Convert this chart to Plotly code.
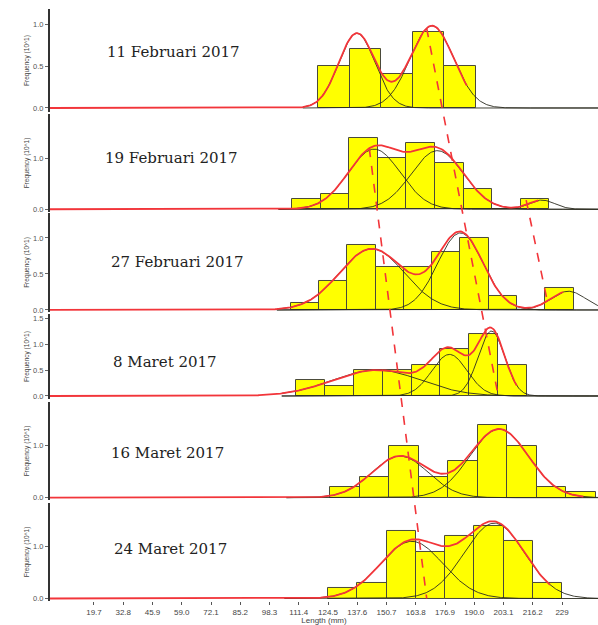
import numpy as np
import plotly.graph_objects as go

BIN_WIDTH = 13.1

panel_titles = ["11 Februari 2017", "19 Februari 2017", "27 Februari 2017",
                "8 Maret 2017", "16 Maret 2017", "24 Maret 2017"]

# lower limit (mm) of the first length class in each sample
bin_start = [111.4, 111.4, 111.4, 111.4, 124.5, 124.5]

# frequencies (x10) per length class
freq_11feb = [0.5, 0.7, 0.4, 0.9, 0.5]
freq_19feb = [0.2, 0.3, 1.4, 1.0, 1.3, 0.9, 0.4, 0.0, 0.2]
freq_27feb = [0.1, 0.4, 0.9, 0.6, 0.6, 0.8, 1.0, 0.2, 0.0, 0.3]
freq_8mar = [0.3, 0.2, 0.5, 0.5, 0.6, 0.9, 1.2, 0.6]
freq_16mar = [0.2, 0.4, 1.0, 0.4, 0.7, 1.4, 1.0, 0.2, 0.1]
freq_24mar = [0.2, 0.3, 1.3, 0.9, 1.2, 1.4, 1.1, 0.3]
freqs = [freq_11feb, freq_19feb, freq_27feb, freq_8mar, freq_16mar, freq_24mar]

# normal components: (mean length mm, sd mm, peak frequency)
comp_11feb = [(127.5, 7.5, 0.89), (158.7, 9.0, 0.98)]
comp_19feb = [(149.0, 12.0, 1.18), (178.0, 12.0, 1.15), (226.0, 6.0, 0.18)]
comp_27feb = [(149.0, 15.0, 0.85), (190.0, 10.5, 1.07), (240.0, 8.0, 0.26)]
comp_8mar = [(148.0, 20.0, 0.50), (181.0, 8.0, 0.80), (200.0, 6.0, 1.25)]
comp_16mar = [(155.5, 12.5, 0.80), (199.5, 13.0, 1.32)]
comp_24mar = [(162.0, 14.0, 1.10), (199.0, 13.5, 1.45)]
comps = [comp_11feb, comp_19feb, comp_27feb, comp_8mar, comp_16mar, comp_24mar]

# last length (mm) of the fitted total curve
fit_end = [173.2, 224.4, 237.6, 211.5, 236.9, 223.9]

# cohort (growth) lines: (panel, length mm, freq) -> (panel, length mm, freq)
cohort_lines = [((0, 156.5, 0.95), (3, 203.1, 0.0)),
                ((1, 146.7, 1.20), (5, 168.7, 0.0)),
                ((1, 218.8, 0.18), (2, 230.1, 0.14))]

x_tickvals = [19.7, 32.8, 45.9, 59.0, 72.1, 85.2, 98.3, 111.4, 124.5, 137.6,
              150.7, 163.8, 176.9, 190.0, 203.1, 216.2, 229.3]
x_ticktext = ["19.7", "32.8", "45.9", "59.0", "72.1", "85.2", "98.3", "111.4",
              "124.5", "137.6", "150.7", "163.8", "176.9", "190.0", "203.1",
              "216.2", "229"]

y_tickvals = [[0, 0.5, 1.0], [0, 1.0], [0, 0.5, 1.0], [0, 0.5, 1.0, 1.5], [0, 1.0], [0, 1.0]]

# layout of the stacked panels
x_range_max = [227.7, 251.8, 253.7, 248.3, 243.4, 245.4]
y_ranges = [[-0.048, 1.179], [-0.053, 1.869], [-0.028, 1.347],
            [-0.058, 1.577], [-0.044, 1.84], [-0.048, 1.837]]
domains = [[0.8136, 0.985], [0.6473, 0.8103], [0.4809, 0.6456],
           [0.3361, 0.4775], [0.1681, 0.3311], [0.0, 0.1631]]
title_pos = [(0.2245, 0.9135), (0.2226, 0.7371), (0.2318, 0.5641),
             (0.2099, 0.3977), (0.2153, 0.2463), (0.219, 0.0865)]

COMP_START = 105.0
YELLOW = "#FFFF00"
RED = "#F2353A"


def gauss(x, m, s, a):
    return a * np.exp(-0.5 * ((x - m) / s) ** 2)


fig = go.Figure()
layout_axes = {}
for i in range(6):
    n = i + 1
    xa = "x" if n == 1 else f"x{n}"
    ya = "y" if n == 1 else f"y{n}"
    f = freqs[i]
    centers = [bin_start[i] + BIN_WIDTH * (k + 0.5) for k in range(len(f))]
    fig.add_trace(go.Bar(x=centers, y=f, width=BIN_WIDTH, xaxis=xa, yaxis=ya,
                         marker=dict(color=YELLOW, line=dict(color="#4a4a3a", width=1)),
                         showlegend=False))
    xc = np.linspace(COMP_START, x_range_max[i], 400)
    for c in comps[i]:
        fig.add_trace(go.Scatter(x=xc, y=gauss(xc, *c), mode="lines", xaxis=xa, yaxis=ya,
                                 line=dict(color="#2b2b20", width=0.9), showlegend=False))
    xt = np.linspace(0, fit_end[i], 400)
    yt = sum(gauss(xt, *c) for c in comps[i])
    fig.add_trace(go.Scatter(x=xt, y=yt, mode="lines", xaxis=xa, yaxis=ya,
                             line=dict(color=RED, width=1.8), showlegend=False))

    xkey = "xaxis" if n == 1 else f"xaxis{n}"
    ykey = "yaxis" if n == 1 else f"yaxis{n}"
    xdict = dict(domain=[0, 1], range=[0, x_range_max[i]], anchor=ya,
                 showgrid=False, zeroline=False, showline=False)
    if n == 6:
        xdict.update(tickvals=x_tickvals, ticktext=x_ticktext, ticks="outside",
                     ticklen=3, tickcolor="#555",
                     tickfont=dict(size=8, color="#444", family="Arial"),
                     title=dict(text="Length (mm)", font=dict(size=8, color="#444", family="Arial"),
                                standoff=4))
    else:
        xdict.update(visible=False)
    layout_axes[xkey] = xdict
    layout_axes[ykey] = dict(domain=domains[i], range=y_ranges[i], anchor=xa,
                             showgrid=False, zeroline=False, showline=True,
                             linecolor="#333", linewidth=2, ticks="outside", ticklen=3,
                             tickcolor="#666", tickvals=y_tickvals[i],
                             ticktext=[f"{v:.1f}" for v in y_tickvals[i]],
                             tickfont=dict(size=7.5, color="#555", family="Arial"),
                             title=dict(text="Frequency (10^1)", standoff=3,
                                        font=dict(size=6.5, color="#444", family="Arial")))

fig.update_layout(**layout_axes)


def to_paper(panel, length, freq):
    px = length / x_range_max[panel]
    d0, d1 = domains[panel]
    r0, r1 = y_ranges[panel]
    py = d0 + (freq - r0) / (r1 - r0) * (d1 - d0)
    return px, py


shapes = []
for (p0, p1) in cohort_lines:
    x0, y0 = to_paper(*p0)
    x1, y1 = to_paper(*p1)
    shapes.append(dict(type="line", xref="paper", yref="paper", x0=x0, y0=y0, x1=x1, y1=y1,
                       line=dict(color=RED, width=1.6, dash="dash"), layer="above"))

annotations = []
for t, (ax, ay) in zip(panel_titles, title_pos):
    annotations.append(dict(text=t, x=ax, y=ay, xref="paper", yref="paper", showarrow=False,
                            xanchor="center", yanchor="middle",
                            font=dict(family="DejaVu Serif", size=15, color="#222")))

fig.update_layout(width=598, height=625, margin=dict(l=50, r=0, t=0, b=24),
                  paper_bgcolor="white", plot_bgcolor="white", barmode="overlay",
                  bargap=0, shapes=shapes, annotations=annotations, showlegend=False)

fig.write_html("out.html")
